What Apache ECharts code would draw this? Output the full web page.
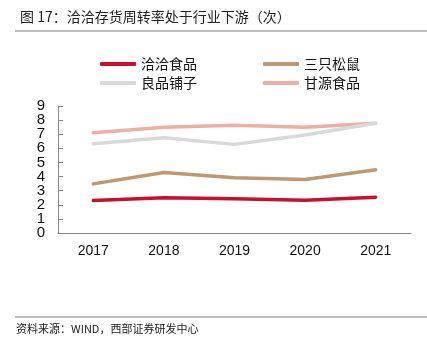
<!DOCTYPE html>
<html><head><meta charset="utf-8">
<script src="https://cdn.jsdelivr.net/npm/echarts@6/dist/echarts.min.js"></script>
<style>html,body{margin:0;padding:0;background:#fff;}#c{width:427px;height:355px;}</style>
</head><body><div id="c"></div>
<script>
const categories = ['2017','2018','2019','2020','2021'];
const qiaqia = [2.30, 2.49, 2.42, 2.32, 2.54];
const sanzhi = [3.48, 4.29, 3.91, 3.79, 4.48];
const liangpin = [6.33, 6.75, 6.28, 6.94, 7.78];
const ganyuan = [7.11, 7.49, 7.63, 7.49, 7.78];
const seriesNames = ['洽洽食品','三只松鼠','良品铺子','甘源食品'];
const yTicks = [0,1,2,3,4,5,6,7,8,9];

const colors = ['#C8102E','#BF9873','#D9D9D9','#EBB0A3'];
const dataArr = [qiaqia, sanzhi, liangpin, ganyuan];
const cjk = '"Noto Sans CJK SC", sans-serif';
const numFont = 'Liberation Sans, Arial, sans-serif';
const mkY = (parity, visible) => ({
  type: 'value', min: 0, max: 9, interval: 1, position: 'left', offset: 0,
  axisLine: {show: visible, lineStyle: {color: '#888', width: 1}},
  axisTick: {show: visible, inside: true, length: 5, lineStyle: {color: '#888'}},
  splitLine: {show: false},
  axisLabel: {fontFamily: numFont, fontSize: 15, color: '#111', margin: 13,
    showMinLabel: true, showMaxLabel: true,
    formatter: v => (yTicks.includes(v) && v % 2 === parity) ? String(v) : ''}
});
const chart = echarts.init(document.getElementById('c'));
chart.setOption({
  animation: false,
  color: colors,
  title: {
    text: '图 17：洽洽存货周转率处于行业下游（次）',
    left: 15, top: 5,
    textStyle: {fontFamily: cjk, fontSize: 14, fontWeight: 'normal', color: '#222'}
  },
  legend: [
    {data: [seriesNames[0], seriesNames[1]], left: 95, top: 52, itemWidth: 36, itemHeight: 4, itemGap: 66,
     textStyle: {fontFamily: cjk, fontSize: 14, color: '#111'}, icon: 'roundRect'},
    {data: [seriesNames[2], seriesNames[3]], left: 95, top: 71, itemWidth: 36, itemHeight: 4, itemGap: 66,
     textStyle: {fontFamily: cjk, fontSize: 14, color: '#111'}, icon: 'roundRect'}
  ],
  grid: {left: 58, right: 16, top: 106, bottom: 122},
  xAxis: {
    type: 'category', data: categories, boundaryGap: true,
    axisLine: {lineStyle: {color: '#888', width: 1}},
    axisTick: {inside: true, length: 5, lineStyle: {color: '#888'}},
    axisLabel: {fontFamily: numFont, fontSize: 14, color: '#111', margin: 11}
  },
  yAxis: [mkY(0, true), mkY(1, false)],
  series: seriesNames.map((n, i) => ({
    name: n, type: 'line', data: dataArr[i], showSymbol: false, symbol: 'none', yAxisIndex: 0,
    lineStyle: {width: 3.5, color: colors[i], cap: 'round'}, z: 10 - i
  })),
  graphic: [
    {type: 'line', shape: {x1: 15, y1: 31, x2: 427, y2: 31}, style: {stroke: '#7f7f7f', lineWidth: 1.2}},
    {type: 'line', shape: {x1: 15, y1: 317, x2: 427, y2: 317}, style: {stroke: '#7f7f7f', lineWidth: 1.2}},
    {type: 'text', left: 16, top: 323, style: {text: '资料来源：WIND，西部证券研发中心', font: '11px "Noto Sans CJK SC", sans-serif', fill: '#222'}}
  ]
});
</script></body></html>
